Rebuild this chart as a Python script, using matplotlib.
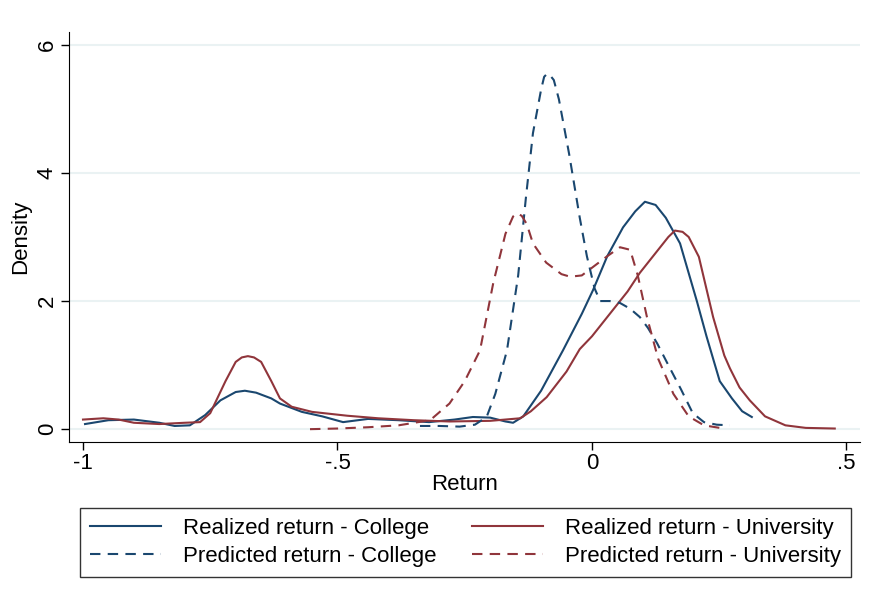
import matplotlib
matplotlib.use("Agg")
import matplotlib.pyplot as plt

# colours used by the Stata s2color scheme
navy = "#1a476f"
maroon = "#90353b"

# Realized return - College
rc_x = [-0.996, -0.95, -0.90, -0.85, -0.82, -0.79, -0.76, -0.73, -0.70, -0.682, -0.66, -0.63, -0.613,
        -0.57, -0.53, -0.489, -0.44, -0.38, -0.32, -0.27, -0.234, -0.20, -0.17, -0.155, -0.135, -0.10,
        -0.057, -0.02, 0.002, 0.03, 0.061, 0.085, 0.104, 0.125, 0.145, 0.173, 0.206, 0.225, 0.251,
        0.275, 0.295, 0.314]
rc_y = [0.08, 0.14, 0.15, 0.10, 0.05, 0.06, 0.22, 0.45, 0.58, 0.60, 0.57, 0.48, 0.40,
        0.27, 0.20, 0.11, 0.16, 0.14, 0.11, 0.15, 0.19, 0.18, 0.12, 0.10, 0.20, 0.60,
        1.23, 1.80, 2.17, 2.70, 3.15, 3.40, 3.55, 3.50, 3.30, 2.90, 2.00, 1.45, 0.75,
        0.48, 0.28, 0.19]

# Realized return - University
ru_x = [-1.0, -0.96, -0.93, -0.90, -0.85, -0.80, -0.77, -0.75, -0.72, -0.70, -0.688, -0.676, -0.664,
        -0.65, -0.63, -0.613, -0.59, -0.55, -0.481, -0.42, -0.35, -0.28, -0.20, -0.141, -0.12,
        -0.089, -0.05, -0.024, 0.0, 0.041, 0.07, 0.094, 0.13, 0.15, 0.163, 0.178, 0.19, 0.21,
        0.238, 0.26, 0.271, 0.29, 0.31, 0.34, 0.38, 0.42, 0.477]
ru_y = [0.15, 0.17, 0.15, 0.10, 0.08, 0.10, 0.11, 0.25, 0.75, 1.05, 1.12, 1.14, 1.12,
        1.05, 0.75, 0.48, 0.35, 0.27, 0.21, 0.17, 0.14, 0.12, 0.13, 0.17, 0.28,
        0.50, 0.90, 1.25, 1.45, 1.86, 2.15, 2.44, 2.80, 3.00, 3.10, 3.08, 3.00, 2.69,
        1.75, 1.15, 0.95, 0.65, 0.45, 0.20, 0.06, 0.02, 0.01]

# Predicted return - College
pc_x = [-0.338, -0.30, -0.26, -0.23, -0.207, -0.19, -0.167, -0.145, -0.13, -0.116, -0.10,
        -0.094, -0.088, -0.082, -0.075, -0.065, -0.045, -0.024, -0.01, 0.005, 0.016, 0.035, 0.055,
        0.075, 0.094, 0.11, 0.128, 0.15, 0.175, 0.198, 0.22, 0.245, 0.271]
pc_y = [0.05, 0.05, 0.04, 0.07, 0.19, 0.55, 1.23, 2.40, 3.60, 4.62, 5.30,
        5.50, 5.55, 5.52, 5.45, 5.15, 4.30, 3.30, 2.70, 2.20, 2.00, 2.00, 1.97,
        1.88, 1.75, 1.58, 1.34, 1.00, 0.62, 0.25, 0.11, 0.07, 0.06]

# Predicted return - University
pu_x = [-0.554, -0.50, -0.44, -0.38, -0.318, -0.28, -0.25, -0.22, -0.194, -0.17, -0.155,
        -0.147, -0.138, -0.128, -0.116, -0.09, -0.06, -0.043, -0.02, 0.0, 0.03, 0.055, 0.075,
        0.09, 0.108, 0.13, 0.16, 0.19, 0.22, 0.251]
pu_y = [0.0, 0.01, 0.03, 0.06, 0.14, 0.40, 0.75, 1.23, 2.28, 3.05, 3.32,
        3.37, 3.33, 3.20, 2.90, 2.60, 2.42, 2.38, 2.40, 2.52, 2.70, 2.84, 2.80,
        2.40, 1.75, 1.10, 0.55, 0.20, 0.06, 0.02]

xticks = [-1, -0.5, 0, 0.5]
xlabels = ["-1", "-.5", "0", ".5"]
yticks = [0, 2, 4, 6]

plt.rcParams['font.family'] = ['Liberation Sans', 'DejaVu Sans']
fs = 16

fig = plt.figure(figsize=(8.69, 5.98), dpi=100)
ax = fig.add_axes([0.0794, 0.2609, 0.9102, 0.6856])

ax.plot(rc_x, rc_y, color=navy, lw=1.5, label="Realized return - College")
ax.plot(ru_x, ru_y, color=maroon, lw=1.5, label="Realized return - University")
ax.plot(pc_x, pc_y, color=navy, lw=1.5, ls=(0, (5, 3.5)), label="Predicted return - College")
ax.plot(pu_x, pu_y, color=maroon, lw=1.5, ls=(0, (5, 3.5)), label="Predicted return - University")

ax.set_xlim(-1.0275, 0.5265)
ax.set_ylim(-0.2, 6.2)
ax.set_xticks(xticks)
ax.set_xticklabels(xlabels)
ax.set_yticks(yticks)
ax.tick_params(axis='y', labelrotation=90, labelsize=fs, length=6, width=1, pad=2)
ax.tick_params(axis='x', labelsize=fs, length=6, width=1, pad=2)
for lab in ax.get_yticklabels():
    lab.set_va('center')
ax.grid(axis='y', color='#eaf2f3', lw=1.5)
ax.set_axisbelow(True)
for s in ['top', 'right']:
    ax.spines[s].set_visible(False)
ax.set_xlabel("Return", fontsize=fs, labelpad=0)
ax.set_ylabel("Density", fontsize=fs, labelpad=4)

h, l = ax.get_legend_handles_labels()
order = [0, 2, 1, 3]
leg = fig.legend([h[i] for i in order], [l[i] for i in order], ncol=2,
                 loc='center', bbox_to_anchor=(0.5357, 0.0928),
                 fontsize=fs, frameon=True, fancybox=False,
                 edgecolor='black', handlelength=3.2, handletextpad=1.0,
                 columnspacing=1.6, borderpad=0.45, labelspacing=0.3)
leg.get_frame().set_linewidth(1)

fig.savefig("out.png", dpi=100)
